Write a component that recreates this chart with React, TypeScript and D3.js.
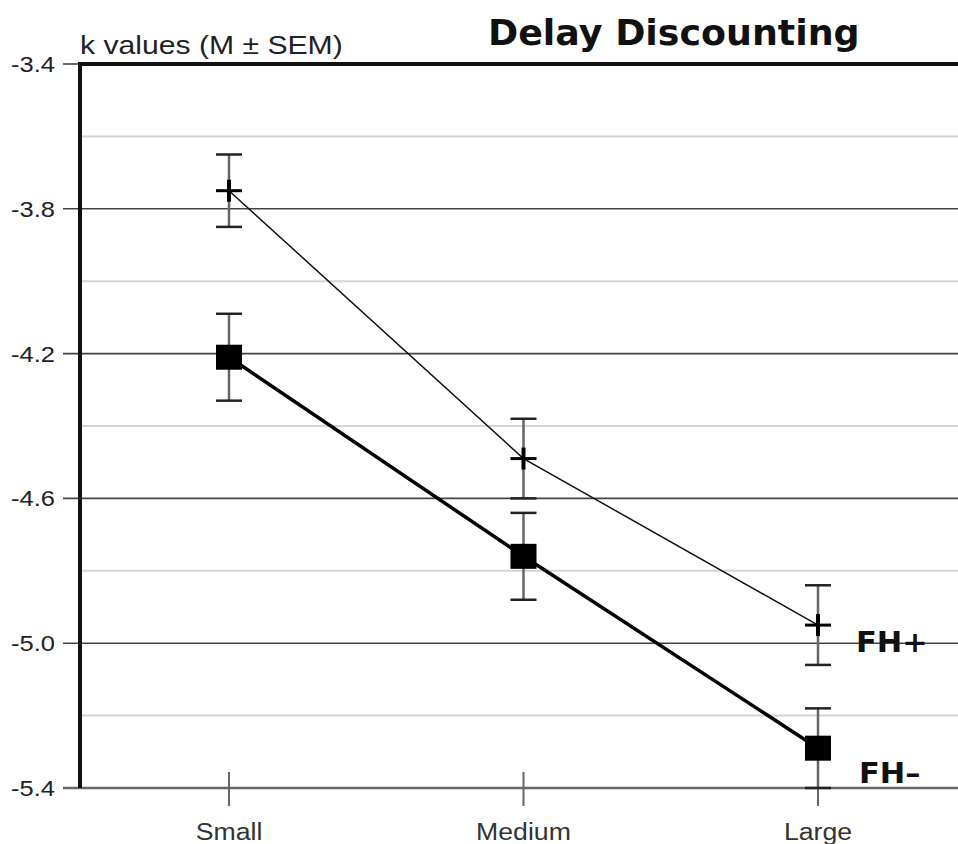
import React from 'react';
import * as d3 from 'd3';

const categories = ['Small', 'Medium', 'Large'];
const fhPlus = [-3.75, -4.49, -4.95];
const fhPlusSem = [0.1, 0.11, 0.11];
const fhMinus = [-4.21, -4.76, -5.29];
const fhMinusSem = [0.12, 0.12, 0.11];
const majorTicks = [-3.4, -3.8, -4.2, -4.6, -5.0, -5.4];
const minorTicks = [-3.6, -4.0, -4.4, -4.8, -5.2];

const width = 958;
const height = 844;
const left = 80;
const top = 64;
const bottom = 788;
const sx = 1.16; // the source figure is stretched horizontally
const sans = 'Liberation Sans, Arial, sans-serif';
const bold = 'DejaVu Sans, sans-serif';

const App = () => {
  const y = d3.scaleLinear().domain([-3.4, -5.4]).range([top, bottom]);
  const x = d3.scalePoint<string>().domain(categories).range([229, 818]);

  const line = d3.line<number>()
    .x((_, i) => x(categories[i])!)
    .y(d => y(d));

  const errBar = (vals: number[], sems: number[], key: string) =>
    vals.map((v, i) => {
      const cx = x(categories[i])!;
      return (
        <g key={key + i}>
          <line x1={cx} x2={cx} y1={y(v + sems[i])} y2={y(v - sems[i])} stroke="#666" strokeWidth={2.5} />
          <line x1={cx - 13} x2={cx + 13} y1={y(v + sems[i])} y2={y(v + sems[i])} stroke="#222" strokeWidth={2.5} />
          <line x1={cx - 13} x2={cx + 13} y1={y(v - sems[i])} y2={y(v - sems[i])} stroke="#222" strokeWidth={2.5} />
        </g>
      );
    });

  const txt = (s: string, tx: number, ty: number, opts: any = {}) => (
    <text
      transform={`translate(${tx},${ty}) scale(${opts.sx || sx},1)`}
      textAnchor={opts.anchor || 'start'}
      fontFamily={opts.family || sans}
      fontWeight={opts.weight || 'normal'}
      fontSize={opts.size || 22}
      fill={opts.fill || '#222'}
    >
      {s}
    </text>
  );

  return (
    <svg width={width} height={height} style={{ position: 'absolute', left: 0, top: 0, background: '#fff' }}>
      {/* minor gridlines */}
      {minorTicks.map(t => (
        <line key={'mn' + t} x1={left} x2={width} y1={y(t)} y2={y(t)} stroke="#d4d4d4" strokeWidth={2} />
      ))}
      {/* major gridlines */}
      {majorTicks.slice(1).map(t => (
        <line key={'mj' + t} x1={63} x2={width} y1={y(t)} y2={y(t)} stroke={t === -5.4 ? '#666' : '#444'} strokeWidth={t === -5.4 ? 2.5 : 1.6} />
      ))}
      <line x1={63} x2={left} y1={y(-3.4)} y2={y(-3.4)} stroke="#444" strokeWidth={1.6} />
      {/* y tick labels */}
      {majorTicks.map(t => (
        <g key={'yl' + t}>{txt(t.toFixed(1), 55, y(t) + 8, { anchor: 'end', size: 22 })}</g>
      ))}
      {/* category ticks */}
      {categories.map(c => (
        <g key={'c' + c}>
          <line x1={x(c)} x2={x(c)} y1={772} y2={806} stroke="#666" strokeWidth={2} />
          {txt(c, x(c)!, 840, { anchor: 'middle', size: 23, fill: '#333' })}
        </g>
      ))}
      {/* axes frame */}
      <line x1={left} x2={width} y1={top} y2={top} stroke="#111" strokeWidth={4} />
      <line x1={left} x2={left} y1={top - 2} y2={bottom} stroke="#111" strokeWidth={4} />

      {/* error bars */}
      {errBar(fhPlus, fhPlusSem, 'p')}
      {errBar(fhMinus, fhMinusSem, 'm')}

      {/* series lines */}
      <path d={line(fhPlus)!} fill="none" stroke="#111" strokeWidth={1.5} />
      <path d={line(fhMinus)!} fill="none" stroke="#000" strokeWidth={3.5} />

      {/* markers */}
      {fhPlus.map((v, i) => {
        const cx = x(categories[i])!;
        const cy = y(v);
        return (
          <g key={'pm' + i} stroke="#000">
            <line x1={cx - 13} x2={cx + 13} y1={cy} y2={cy} strokeWidth={3} />
            <line x1={cx} x2={cx} y1={cy - 11} y2={cy + 11} strokeWidth={4} />
          </g>
        );
      })}
      {fhMinus.map((v, i) => {
        const cx = x(categories[i])!;
        const cy = y(v);
        return <rect key={'mm' + i} x={cx - 13} y={cy - 12.5} width={26} height={25} fill="#000" />;
      })}

      {/* series labels */}
      {txt('FH+', 856, y(-5.0) + 9, { family: bold, weight: 'bold', size: 29, sx: 1.05, fill: '#111' })}
      {txt('FH–', 859, y(-5.4) - 5, { family: bold, weight: 'bold', size: 29, sx: 1.05, fill: '#111' })}

      {/* titles */}
      {txt('k values (M ± SEM)', 80, 54, { size: 26 })}
      {txt('Delay Discounting', 488, 45, { family: bold, weight: 'bold', size: 35, sx: 1.04, fill: '#111' })}
    </svg>
  );
};

export default App;
